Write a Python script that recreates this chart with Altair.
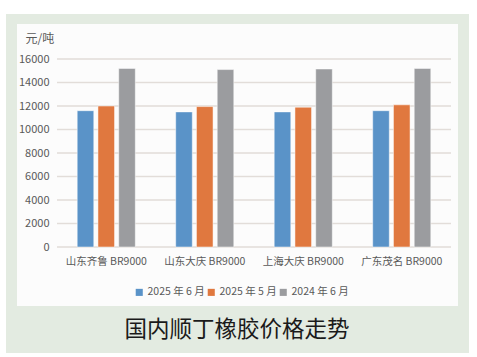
import altair as alt
import pandas as pd

categories = ["山东齐鲁 BR9000", "山东大庆 BR9000", "上海大庆 BR9000", "广东茂名 BR9000"]
series = ["2025 年 6 月", "2025 年 5 月", "2024 年 6 月"]
jun_2025 = [11600, 11500, 11500, 11600]
may_2025 = [12000, 11950, 11900, 12100]
jun_2024 = [15200, 15100, 15150, 15200]
y_ticks = [0, 2000, 4000, 6000, 8000, 10000, 12000, 14000, 16000]
colors = ["#5a93c8", "#e0783f", "#9b9c9f"]

rows = []
for i, c in enumerate(categories):
    for s, vals in zip(series, [jun_2025, may_2025, jun_2024]):
        rows.append({"region": c, "series": s, "price": vals[i]})
df = pd.DataFrame(rows)

FONT_NUM = "Liberation Sans Narrow, Noto Sans CJK SC, sans-serif"
FONT_CJK = "Noto Sans CJK SC, sans-serif"
LABEL_COLOR = "#595959"

one = pd.DataFrame({"a": [0]})
bg_outer = alt.Chart(one).mark_rect(color="#e3ebe1").encode(
    x=alt.value(-51), x2=alt.value(412), y=alt.value(-45), y2=alt.value(294)
)
bg_inner = alt.Chart(one).mark_rect(color="#fcfcfc").encode(
    x=alt.value(-40), x2=alt.value(401), y=alt.value(-35), y2=alt.value(247)
)

y_scale = alt.Scale(domain=[0, 16000], nice=False)
y_axis = alt.Axis(
    values=y_ticks, format="d", title="元/吨", titleAngle=0, titleAlign="left",
    titleBaseline="middle", titleX=-32, titleY=-21,
    titleFont=FONT_CJK, titleFontSize=12, titleFontWeight="normal",
    titleColor=LABEL_COLOR,
    domain=False, ticks=False, grid=False, labelFont=FONT_NUM,
    labelFontSize=11, labelColor=LABEL_COLOR, labelPadding=8, zindex=1,
)

grid = alt.Chart(pd.DataFrame({"tick": y_ticks})).mark_rule(
    color="#e2ddd9", strokeWidth=1.3
).encode(
    y=alt.Y("tick:Q", scale=y_scale, axis=y_axis),
    x=alt.value(0), x2=alt.value(394),
)

bars = alt.Chart(df).mark_bar(stroke="#ffffff", strokeWidth=0.5).encode(
    x=alt.X(
        "region:N",
        sort=categories,
        scale=alt.Scale(paddingInner=0.41, paddingOuter=0.205),
        axis=alt.Axis(
            title=None, labelAngle=0, domain=False, ticks=False, grid=False,
            labelFont=FONT_NUM, labelFontSize=10.5, labelColor=LABEL_COLOR,
            labelPadding=9, zindex=1,
        ),
    ),
    xOffset=alt.XOffset("series:N", sort=series, scale=alt.Scale(paddingInner=0.2)),
    y=alt.Y("price:Q", scale=y_scale, axis=y_axis),
    color=alt.Color(
        "series:N",
        sort=series,
        scale=alt.Scale(domain=series, range=colors),
        legend=alt.Legend(
            title=None, orient="none", legendX=77, legendY=228,
            direction="horizontal", symbolType="square", symbolSize=50,
            symbolStrokeWidth=0, labelFont=FONT_NUM, labelFontSize=10.5,
            labelColor=LABEL_COLOR, labelOffset=3, columnPadding=1, padding=0,
        ),
    ),
)

chart = alt.layer(bg_outer, bg_inner, grid, bars).properties(
    width=394,
    height=188,
    padding={"left": 57, "top": 59, "right": 26, "bottom": 110},
    autosize=alt.AutoSizeParams(type="none"),
    background="#ffffff",
    title=alt.TitleParams(
        "国内顺丁橡胶价格走势", orient="bottom", anchor="middle", frame="group",
        dx=-17, offset=-34, font=FONT_CJK, fontSize=22.5, fontWeight="normal",
        color="#1a1a1a",
    ),
).configure_view(stroke=None)

chart.save("out.html", embed_options={"renderer": "svg", "actions": False})
